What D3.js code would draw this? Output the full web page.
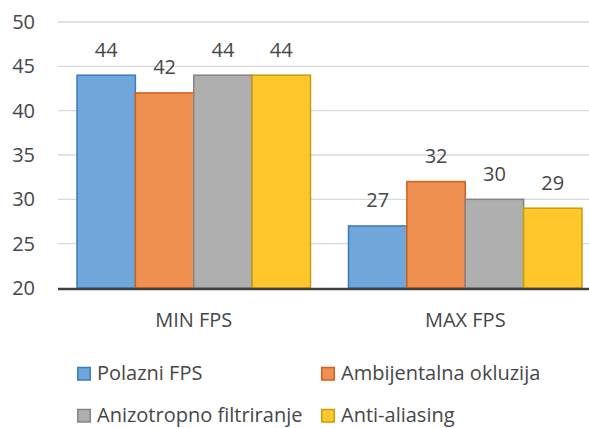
<!DOCTYPE html>
<html>
<head>
<meta charset="utf-8">
<script src="https://cdn.jsdelivr.net/npm/d3@7"></script>
<style>
  html, body { margin: 0; padding: 0; background: #fff; }
  #canvas { width: 589px; height: 428px; }
  text { font-family: "Open Sans", "Noto Sans", sans-serif; fill: #474747; }
</style>
</head>
<body>
<div id="canvas"></div>
<script>
const categories = ["MIN FPS", "MAX FPS"];
const seriesNames = ["Polazni FPS", "Ambijentalna okluzija", "Anizotropno filtriranje", "Anti-aliasing"];
const polazni = [44, 27];
const ambijentalna = [42, 32];
const anizotropno = [44, 30];
const antiAliasing = [44, 29];
const yTicks = [20, 25, 30, 35, 40, 45, 50];

const fills = ["#70a7da", "#f09050", "#afafaf", "#ffc72c"];
const strokes = ["#3a7cbf", "#d0621c", "#858585", "#c89c0c"];

const w = 589, h = 428;
const fs = 20;
const seriesValues = [polazni, ambijentalna, anizotropno, antiAliasing];

let svg = d3.select("#canvas")
            .append("svg")
                .attr("width", w)
                .attr("height", h)
                .attr("viewBox", [0, 0, w, h]);

let x = d3.scaleBand()
    .domain(categories)
    .range([58, 601])
    .paddingInner(0.14)
    .paddingOuter(0.07);

let xs = d3.scaleBand()
    .domain(seriesNames)
    .range([0, x.bandwidth()]);

let y = d3.scaleLinear()
    .domain([20, 50])
    .range([288, 22]);

// gridlines
svg.append("g")
    .selectAll("line")
    .data(yTicks.slice(1))
    .enter().append("line")
        .attr("x1", 58)
        .attr("x2", w)
        .attr("y1", d => y(d))
        .attr("y2", d => y(d))
        .attr("stroke", "#d9d9d9")
        .attr("stroke-width", 1.3);

// y tick labels
svg.append("g")
    .selectAll("text")
    .data(yTicks)
    .enter().append("text")
        .attr("x", 35)
        .attr("y", d => y(d) + 7)
        .attr("text-anchor", "end")
        .attr("font-size", fs)
        .text(d => d);

// bars
let rows = [];
seriesValues.forEach((vals, si) => {
    vals.forEach((v, ci) => rows.push({ s: si, c: ci, v: v }));
});

let g = svg.append("g");
g.selectAll("rect")
    .data(rows)
    .enter().append("rect")
        .attr("x", d => x(categories[d.c]) + xs(seriesNames[d.s]))
        .attr("y", d => y(d.v))
        .attr("width", xs.bandwidth())
        .attr("height", d => y(20) - y(d.v))
        .attr("fill", d => fills[d.s])
        .attr("stroke", d => strokes[d.s])
        .attr("stroke-width", 1.5);

g.selectAll("text")
    .data(rows)
    .enter().append("text")
        .attr("x", d => x(categories[d.c]) + xs(seriesNames[d.s]) + xs.bandwidth() / 2)
        .attr("y", d => y(d.v) - 18.5)
        .attr("text-anchor", "middle")
        .attr("font-size", fs)
        .text(d => d.v);

// x axis line
svg.append("line")
    .attr("x1", 58)
    .attr("x2", w)
    .attr("y1", y(20) + 1)
    .attr("y2", y(20) + 1)
    .attr("stroke", "#404040")
    .attr("stroke-width", 2.5);

// category labels
svg.append("g")
    .selectAll("text")
    .data(categories)
    .enter().append("text")
        .attr("x", d => x(d) + x.bandwidth() / 2)
        .attr("y", 327)
        .attr("text-anchor", "middle")
        .attr("font-size", fs)
        .text(d => d);

// legend
let legendPos = [[77, 380], [321, 380], [77, 422], [321, 422]];
let lg = svg.append("g")
    .selectAll("g")
    .data(seriesNames)
    .enter().append("g")
        .attr("transform", (d, i) => "translate(" + legendPos[i][0] + "," + legendPos[i][1] + ")");

lg.append("rect")
    .attr("x", 0.75)
    .attr("y", -12.5)
    .attr("width", 12.5)
    .attr("height", 12.5)
    .attr("fill", (d, i) => fills[i])
    .attr("stroke", (d, i) => strokes[i])
    .attr("stroke-width", 1.5);

lg.append("text")
    .attr("x", 20)
    .attr("y", 0)
    .attr("font-size", fs)
    .text(d => d);
</script>
</body>
</html>
